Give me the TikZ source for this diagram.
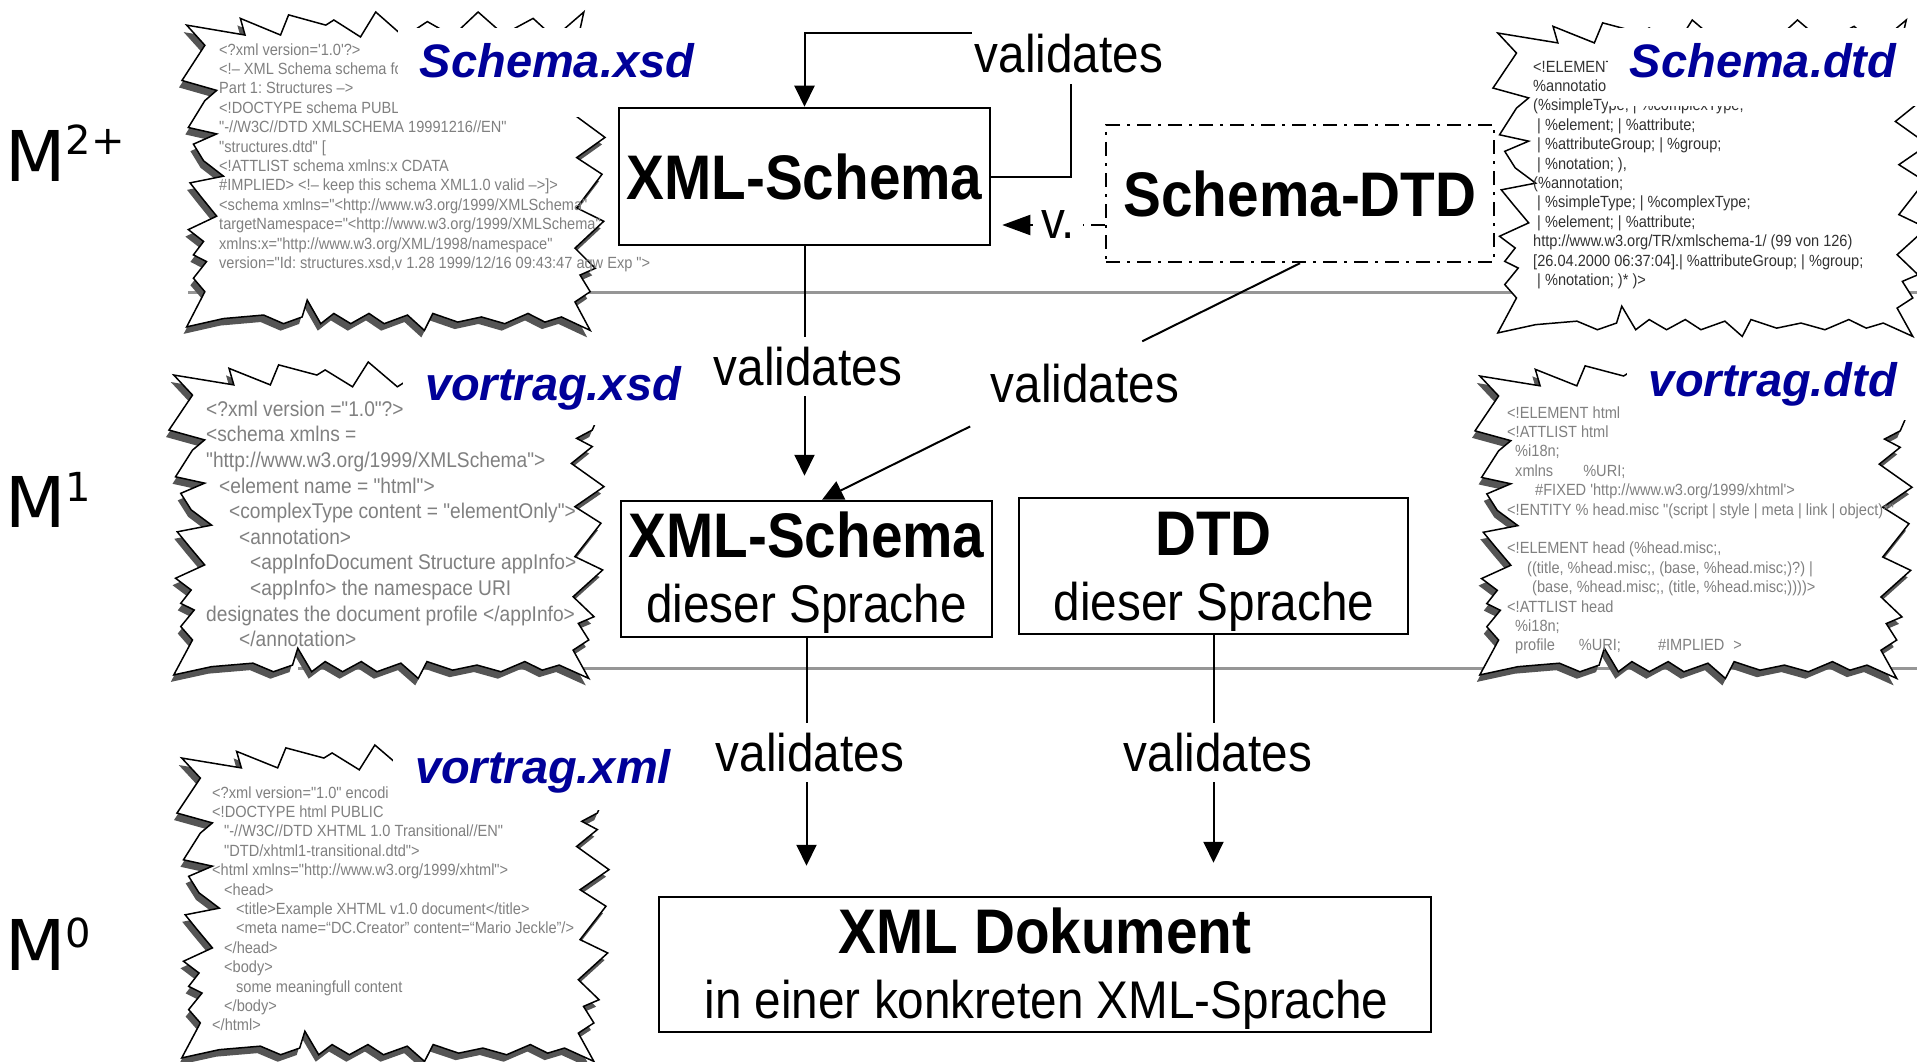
\documentclass[tikz,border=0pt]{standalone}
\usepackage{fontspec}
\setmainfont[FakeStretch=0.9]{Liberation Sans}
% listing text: same narrow face, but without the TeX quote/dash mapping
\setmonofont[FakeStretch=0.9]{Liberation Sans}
\newfontfamily\titlefont{Liberation Sans}
\newfontfamily\levelfont{DejaVu Sans}
\usetikzlibrary{arrows.meta,calc}

\definecolor{fileblue}{RGB}{0,0,153}
\definecolor{codegray}{RGB}{128,128,128}
\definecolor{codedark}{RGB}{50,50,50}
\definecolor{rulegray}{RGB}{150,150,150}
\definecolor{shadowgray}{RGB}{85,85,85}

% jagged "explosion" outline in unit coordinates (u right, v down)
\newcommand\jagshape[1]{%
  \path[#1] (0.011,0.041) -- (0.149,0.072) -- (0.138,0.020) -- (0.233,0.072) -- (0.252,0.009)
    -- (0.340,0.041) -- (0.359,0.025) -- (0.422,0.078) -- (0.458,0.000) -- (0.525,0.078)
    -- (0.58,0.03) -- (0.64,0.075) -- (0.70,0.0) -- (0.76,0.07) -- (0.83,0.02) -- (0.88,0.08)
    -- (0.95,0.0) -- (0.93,0.12) -- (0.99,0.16)
    -- (0.973,0.214) -- (0.937,0.240) -- (0.973,0.266) -- (0.925,0.319) -- (1.0,0.392)
    -- (0.933,0.455) -- (0.993,0.507) -- (0.933,0.612) -- (0.997,0.654) -- (0.929,0.738)
    -- (0.977,0.801) -- (0.941,0.822) -- (0.965,0.874) -- (0.929,0.906) -- (0.965,0.995)
    -- (0.897,0.953) -- (0.858,0.969) -- (0.818,0.942) -- (0.763,0.974) -- (0.708,0.953)
    -- (0.652,0.969) -- (0.593,0.942) -- (0.573,0.995) -- (0.533,0.947) -- (0.478,0.974)
    -- (0.442,0.942) -- (0.399,0.974) -- (0.359,0.942) -- (0.328,0.974) -- (0.296,0.900)
    -- (0.284,0.953) -- (0.240,0.974) -- (0.193,0.947) -- (0.098,0.958) -- (0.011,0.984)
    -- (0.054,0.874) -- (0.027,0.832) -- (0.058,0.780) -- (0.027,0.759) -- (0.051,0.717)
    -- (0.015,0.680) -- (0.082,0.638) -- (0.047,0.581) -- (0.019,0.534) -- (0.098,0.513)
    -- (0.051,0.465) -- (0.027,0.413) -- (0.082,0.381) -- (0.015,0.361) -- (0.054,0.277)
    -- (0.082,0.245) -- (0.0,0.214) -- (0.054,0.104) -- cycle;}

% #1,#2 top left, #3 width, #4 height, #5 shadow style
\newcommand\jagged[5]{%
  \begin{scope}[shift={(#1-3,#2+7)},xscale=#3,yscale=#4]\jagshape{#5}\end{scope}
  \begin{scope}[shift={(#1,#2)},xscale=#3,yscale=#4]
    \jagshape{fill=white,draw=black,line width=1.5pt}\end{scope}}

\newcommand\pipesep{\hspace{4pt}|\hspace{4pt}}

\begin{document}
\begin{tikzpicture}[x=1pt,y=-1pt,
  box/.style={draw,line width=2.5pt,fill=white,inner sep=0pt},
  bigtxt/.style={font=\bfseries\fontsize{63pt}{63pt}\selectfont,inner sep=0pt},
  regtxt/.style={font=\fontsize{53pt}{53pt}\selectfont,inner sep=0pt},
  lbl/.style={font=\fontsize{53pt}{53pt}\selectfont,fill=white,inner xsep=3pt,inner ysep=10pt,anchor=base},
  conn/.style={line width=2pt},
  arr/.style={-{Triangle[length=21pt,width=20pt]}},
  dashdotpat/.style={dash pattern=on 14pt off 7pt on 3pt off 7pt},
  code/.style={font=\ttfamily\fontsize{16.2pt}{19.4pt}\selectfont,align=left,inner sep=0pt,anchor=north west},
  bigcode/.style={font=\ttfamily\fontsize{21.3pt}{25.6pt}\selectfont,align=left,inner sep=0pt,anchor=north west},
  filetitle/.style={font=\titlefont\bfseries\itshape\fontsize{47pt}{47pt}\selectfont,text=fileblue,
    fill=white,inner xsep=22pt,inner ysep=0pt,text height=50pt,anchor=base},
  level/.style={font=\levelfont\fontsize{70pt}{70pt}\selectfont,inner sep=0pt,anchor=base west},
  rule/.style={rulegray,line width=3pt}]

\useasboundingbox (0,0) rectangle (1917,1062);
\clip (0,0) rectangle (1917,1062);
\fill[white] (0,0) rectangle (1917,1062);

% level separators
\draw[rule] (188,292) -- (1917,292);
\draw[rule] (298,668) -- (1917,668);

% file excerpts
\jagged{182}{12}{423}{320}{fill=shadowgray}
\jagged{1493}{20}{435}{318}{fill=none}
\jagged{169}{362}{435}{318}{fill=shadowgray}
\jagged{1475}{363}{437}{317}{fill=shadowgray}
\jagged{177}{745}{432}{318}{fill=shadowgray}

\node[code,text=codegray] (xsdcode) at (219,41.4) {\strut<?xml version='1.0'?>\\
<!– XML Schema schema fo\\
Part 1: Structures –>\\
<!DOCTYPE schema PUBLIC\\
"-//W3C//DTD XMLSCHEMA 19991216//EN"\\
"structures.dtd" [\\
<!ATTLIST schema xmlns:x CDATA\\
\#IMPLIED> <!– keep this schema XML1.0 valid –>]>\\
<schema xmlns="<http://www.w3.org/1999/XMLSchema"\\
targetNamespace="<http://www.w3.org/1999/XMLSchema"\\
xmlns:x="http://www.w3.org/XML/1998/namespace"\\
version="Id: structures.xsd,v 1.28 1999/12/16 09:43:47 aqw Exp ">};

\node[code,text=codedark] (dtdcode) at (1533,58.4) {\strut<!ELEMENT\\
\%annotatio\\
(\%simpleType; | \%complexType;\\
\hspace*{4pt}| \%element; | \%attribute;\\
\hspace*{4pt}| \%attributeGroup; | \%group;\\
\hspace*{4pt}| \%notation; ),\\
(\%annotation;\\
\hspace*{4pt}| \%simpleType; | \%complexType;\\
\hspace*{4pt}| \%element; | \%attribute;\\
http://www.w3.org/TR/xmlschema-1/ (99 von 126)\\
{[}26.04.2000 06:37:04].| \%attributeGroup; | \%group;\\
\hspace*{4pt}| \%notation; )* )>};

\node[bigcode,text=codegray] (vxsdcode) at (206,398.1) {\strut<?xml version ="1.0"?>\\
<schema xmlns =\\
"http://www.w3.org/1999/XMLSchema">\\
\hspace*{13pt}<element name = "html">\\
\hspace*{23pt}<complexType content = "elementOnly">\\
\hspace*{33pt}<annotation>\\
\hspace*{44pt}<appInfoDocument Structure appInfo>\\
\hspace*{44pt}<appInfo> the namespace URI\\
designates the document profile </appInfo>\\
\hspace*{33pt}</annotation>};

\node[code,text=codegray] (vdtdcode) at (1507,404.4) {\strut<!ELEMENT html\\
<!ATTLIST html\\
\hspace*{8pt}\%i18n;\\
\hspace*{8pt}xmlns\hspace{30pt}\%URI;\\
\hspace*{28pt}\#FIXED 'http://www.w3.org/1999/xhtml'>\\
<!ENTITY \% head.misc "(script\pipesep style\pipesep meta\pipesep link\pipesep object)*"\\[19.4pt]
<!ELEMENT head (\%head.misc;,\\
\hspace*{20pt}((title, \%head.misc;, (base, \%head.misc;)?) |\\
\hspace*{25pt}(base, \%head.misc;, (title, \%head.misc;))))>\\
<!ATTLIST head\\
\hspace*{8pt}\%i18n;\\
\hspace*{8pt}profile\hspace{24pt}\%URI;\hspace{37pt}\#IMPLIED\hspace{9pt}>};

\node[code,text=codegray] (vxmlcode) at (212,784.4) {\strut<?xml version="1.0" encodi\\
<!DOCTYPE html PUBLIC\\
\hspace*{12pt}"-//W3C//DTD XHTML 1.0 Transitional//EN"\\
\hspace*{12pt}"DTD/xhtml1-transitional.dtd">\\
<html xmlns="http://www.w3.org/1999/xhtml">\\
\hspace*{12pt}<head>\\
\hspace*{24pt}<title>Example XHTML v1.0 document</title>\\
\hspace*{24pt}<meta name=“DC.Creator” content=“Mario Jeckle”/>\\
\hspace*{12pt}</head>\\
\hspace*{12pt}<body>\\
\hspace*{24pt}some meaningfull content\\
\hspace*{12pt}</body>\\
</html>};

% file names
\node[filetitle,text depth=39pt] (t1) at (557,78) {Schema.xsd};
\node[filetitle,text depth=28pt] (t2) at (1763,78) {Schema.dtd};
\node[filetitle,text depth=25pt] (t3) at (553,400) {vortrag.xsd};
\node[filetitle,text depth=24pt] (t4) at (1773,396) {vortrag.dtd};
\node[filetitle,text depth=27pt] (t5) at (543,783) {vortrag.xml};

% boxes
\node[box,minimum width=371pt,minimum height=137pt,bigtxt] (xs) at (804.5,176.5) {XML-Schema};
\node[box,dashdotpat,minimum width=388pt,minimum height=137pt,bigtxt] (sdtd) at (1300,193.5) {Schema-DTD};
\node[box,minimum width=371pt,minimum height=136pt] (schema1) at (806.5,569) {};
\node[box,minimum width=389pt,minimum height=136pt] (dtd) at (1213.5,566) {};
\node[box,minimum width=772pt,minimum height=135pt] (doc) at (1045,964.5) {};

\node[bigtxt,anchor=base] (schema1a) at (806.5,557) {XML-Schema};
\node[regtxt,anchor=base] (schema1b) at (806.5,622) {dieser Sprache};
\node[bigtxt,anchor=base] (dtda) at (1213.5,555) {DTD};
\node[regtxt,anchor=base] (dtdb) at (1214,620) {dieser Sprache};
\node[bigtxt,anchor=base] (doca) at (1045,953) {XML Dokument};
\node[regtxt,anchor=base] (docb) at (1046.5,1018) {in einer konkreten XML-Sprache};

% connectors
\coordinate (loopc) at (1071,33);
\coordinate (vrow) at (0,225);
\coordinate (dtip) at ($(schema1.north)+(15.5,0)$);

\draw[conn,arr] (xs.east) -| (loopc) -| (xs.north);
\draw[conn,arr,shorten >=24pt] (xs.south) -- (xs.south |- schema1.north);
\draw[conn] (sdtd.south) -- ($(sdtd.south)!0.33!(dtip)$);
\draw[conn,arr] ($(sdtd.south)!0.69!(dtip)$) -- (dtip);
\draw[conn,dashdotpat,-{Triangle[length=28pt,width=20pt]},shorten >=11pt] (sdtd.west |- vrow) -- (xs.east |- vrow);
\draw[conn,arr,shorten >=30pt] (schema1.south) -- (schema1.south |- doc.north);
\draw[conn,arr,shorten >=33pt] (dtd.south) -- (dtd.south |- doc.north);

% connector labels
\node[lbl] (v1) at (1069,73) {validates};
\node[lbl] (v2) at (808,385) {validates};
\node[lbl] (v3) at (1085,402) {validates};
\node[lbl] (v4) at (810,771) {validates};
\node[lbl] (v5) at (1218,771) {validates};
\node[lbl,inner ysep=2pt,inner xsep=8pt] (vv) at (1058,238) {v.};

% meta levels
\node[level] (m2) at (5,181) {M\raisebox{26pt}{\fontsize{40pt}{40pt}\selectfont 2+}};
\node[level] (m1) at (5,527) {M\raisebox{26pt}{\fontsize{40pt}{40pt}\selectfont 1}};
\node[level] (m0) at (5,970) {M\raisebox{23pt}{\fontsize{40pt}{40pt}\selectfont 0}};
\end{tikzpicture}
\end{document}
